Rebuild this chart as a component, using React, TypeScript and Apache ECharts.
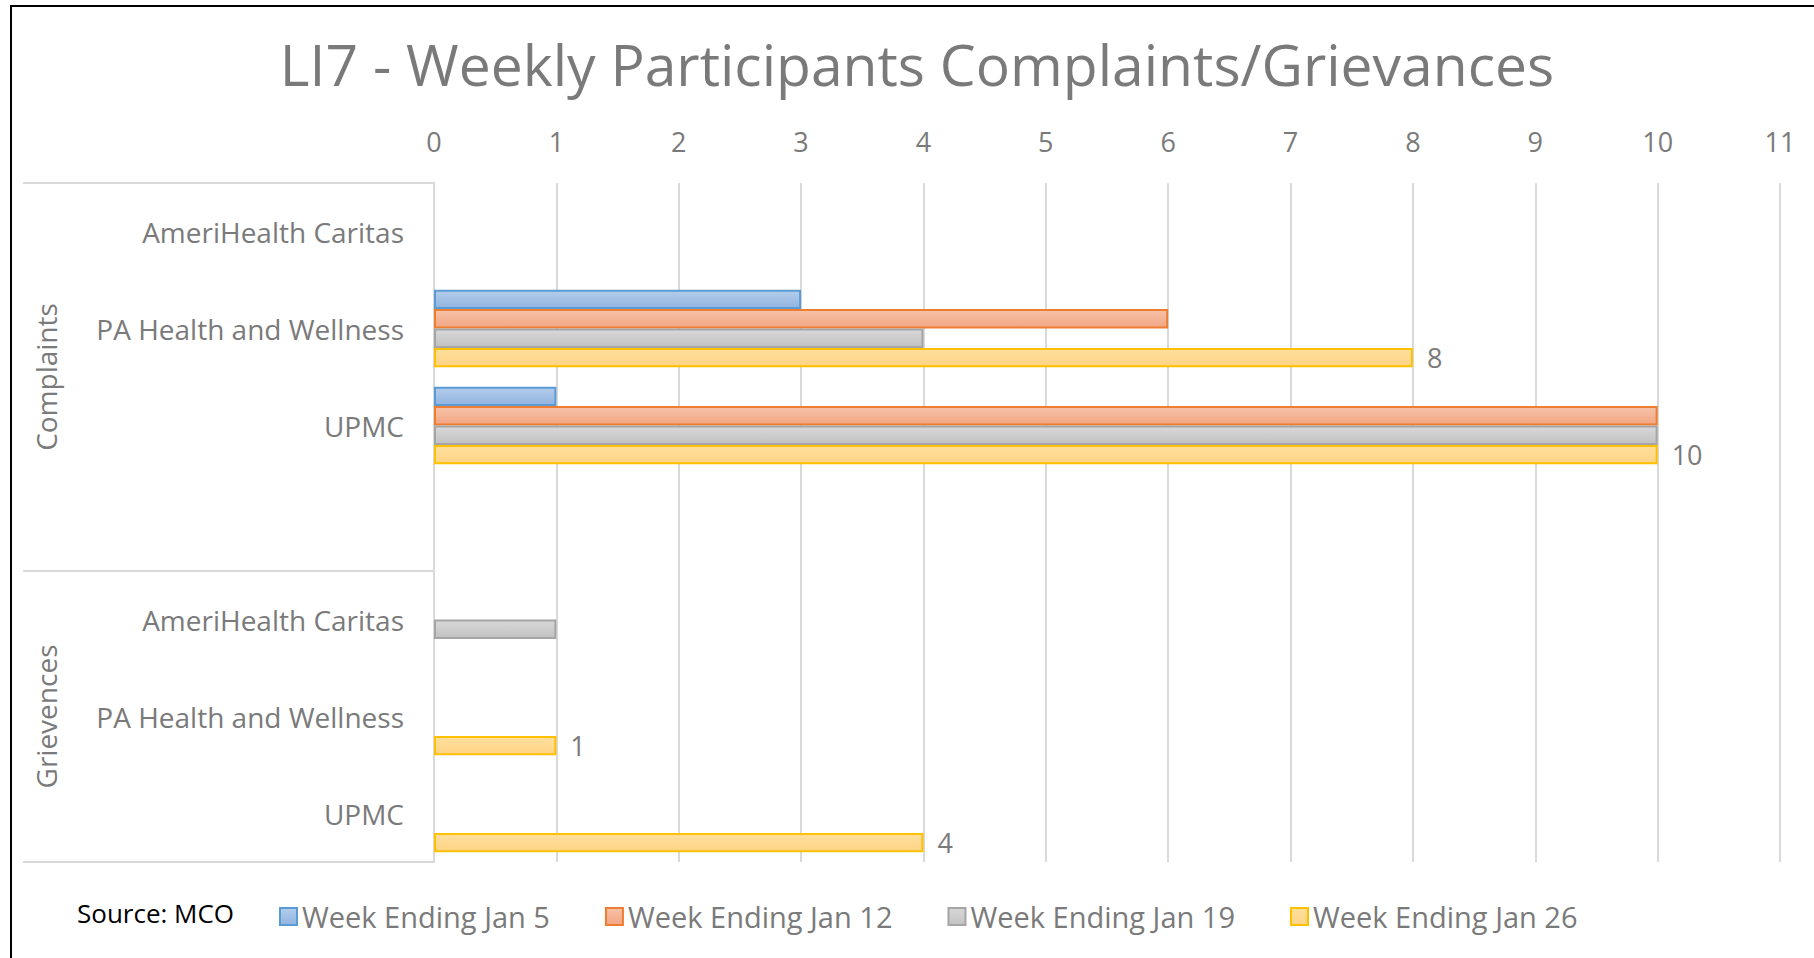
import React, { useEffect, useRef } from "react";
import * as echarts from "echarts";

const groupNames = ["Complaints", "Grievences"];
// category rows (group|mco); an empty row closes the Complaints block
const categoryKeys = [
  "Complaints|AmeriHealth Caritas",
  "Complaints|PA Health and Wellness",
  "Complaints|UPMC",
  "Complaints|",
  "Grievences|AmeriHealth Caritas",
  "Grievences|PA Health and Wellness",
  "Grievences|UPMC",
];
const seriesNames = [
  "Week Ending Jan 5",
  "Week Ending Jan 12",
  "Week Ending Jan 19",
  "Week Ending Jan 26",
];
const weekJan5 = [null, 3, 1, null, null, null, null];
const weekJan12 = [null, 6, 10, null, null, null, null];
const weekJan19 = [null, 4, 10, null, 1, null, null];
const weekJan26 = [null, 8, 10, null, null, 1, 4];
const valueMin = 0;
const valueMax = 11;
const valueInterval = 1;
const titleText = "LI7 - Weekly Participants Complaints/Grievances";
const sourceText = "Source: MCO";

const seriesValues = [weekJan5, weekJan12, weekJan19, weekJan26];
const borderColors = ["#5b9bd5", "#ed7d31", "#a5a5a5", "#ffc000"];
const topColors = ["#b3cdeb", "#f6c2a8", "#d8d8d8", "#ffdf9c"];
const bottomColors = ["#92b4e0", "#f3a683", "#c2c2c2", "#fed486"];

const FONT = "'Open Sans'";
const GRAY = "#7a7a7a";
const LINE = "#d9d9d9";

export default function App() {
  const ref = useRef<HTMLDivElement>(null);
  useEffect(() => {
    if (!ref.current) return;
    const chart = echarts.init(ref.current, null, { renderer: "svg" });

    const series = seriesNames.map((name, i) => ({
      name,
      type: "bar",
      data: seriesValues[i],
      barCategoryGap: "20%",
      barGap: "0%",
      itemStyle: {
        color: new echarts.graphic.LinearGradient(0, 0, 0, 1, [
          { offset: 0, color: topColors[i] },
          { offset: 1, color: bottomColors[i] },
        ]),
        borderColor: borderColors[i],
        borderWidth: 2,
      },
      label:
        i === 3
          ? {
              show: true,
              position: "right",
              distance: 14,
              color: GRAY,
              fontFamily: "Open Sans",
              fontSize: 27,
            }
          : { show: false },
    }));

    const staticGraphics: any[] = [
      {
        id: "frame",
        type: "rect",
        shape: { x: 11, y: 6, width: 1900, height: 1100 },
        style: { fill: "none", stroke: "#000", lineWidth: 2 },
        silent: true,
        z: -10,
      },
      {
        id: "title",
        type: "text",
        x: 917,
        y: 64,
        style: {
          text: titleText,
          fill: GRAY,
          font: `57px ${FONT}`,
          align: "center",
          verticalAlign: "middle",
        },
      },
      {
        id: "source",
        type: "text",
        x: 77,
        y: 913,
        style: {
          text: sourceText,
          fill: "#000",
          font: `26px ${FONT}`,
          align: "left",
          verticalAlign: "middle",
        },
      },
    ];

    chart.setOption({
      animation: false,
      backgroundColor: "#fff",
      grid: { left: 434, right: 34, top: 183, bottom: 96, containLabel: false },
      xAxis: {
        type: "value",
        position: "top",
        min: valueMin,
        max: valueMax,
        interval: valueInterval,
        axisLine: { show: false },
        axisTick: { show: false },
        axisLabel: { color: GRAY, fontFamily: "Open Sans", fontSize: 27, margin: 28 },
        splitLine: { show: true, lineStyle: { color: LINE, width: 2 } },
      },
      yAxis: {
        type: "category",
        inverse: true,
        data: categoryKeys,
        axisLine: { show: true, lineStyle: { color: LINE, width: 2 } },
        axisTick: {
          show: true,
          length: 411,
          interval: (idx: number) => idx === 0 || idx === 4,
          lineStyle: { color: LINE, width: 2 },
        },
        axisLabel: {
          color: GRAY,
          fontFamily: "Open Sans",
          fontSize: 28,
          margin: 30,
          interval: 0,
          formatter: (v: string) => v.split("|")[1],
        },
      },
      legend: {
        left: 279,
        top: 902,
        padding: 0,
        itemWidth: 17,
        itemHeight: 17,
        itemGap: 55,
        icon: "rect",
        textStyle: { color: GRAY, fontFamily: "Open Sans", fontSize: 29 },
        data: seriesNames.map((name, i) => ({
          name,
          itemStyle: {
            color: new echarts.graphic.LinearGradient(0, 0, 0, 1, [
              { offset: 0, color: topColors[i] },
              { offset: 1, color: bottomColors[i] },
            ]),
            borderColor: borderColors[i],
            borderWidth: 2,
          },
        })),
      },
      series,
      graphic: staticGraphics,
    });

    // group labels centred on their whole block of category rows
    const pix = (k: string) => chart.convertToPixel({ yAxisIndex: 0 }, k) as number;
    const groupCenters = groupNames.map((g) => {
      const ys = categoryKeys.filter((k) => k.startsWith(g + "|")).map(pix);
      return (Math.min(...ys) + Math.max(...ys)) / 2;
    });

    chart.setOption({
      graphic: [
        ...staticGraphics,
        ...groupNames.map((g, i) => ({
          id: "grp" + i,
          type: "text",
          x: 46,
          y: groupCenters[i],
          rotation: Math.PI / 2,
          style: {
            text: g,
            fill: GRAY,
            font: `28px ${FONT}`,
            align: "center",
            verticalAlign: "middle",
          },
        })),
      ],
    });

    return () => chart.dispose();
  }, []);
  return (
    <div
      ref={ref}
      style={{ position: "absolute", left: 0, top: 0, width: 1814, height: 958 }}
    />
  );
}
